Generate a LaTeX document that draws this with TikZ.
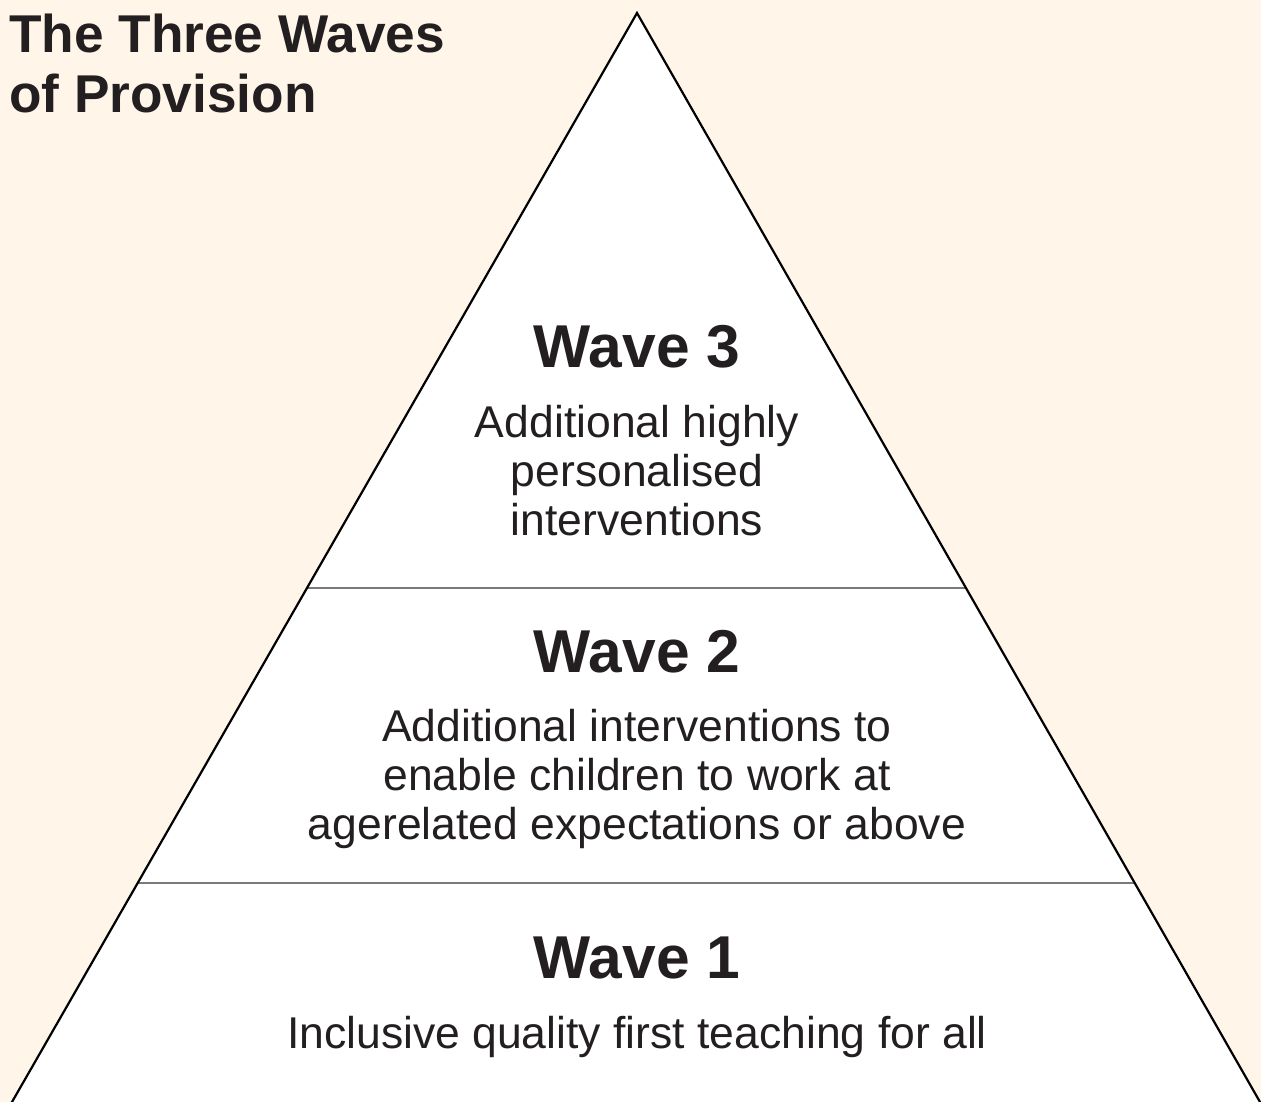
\documentclass[tikz,border=0pt]{standalone}
\usepackage{fontspec}
\setmainfont{Liberation Sans}
\usetikzlibrary{calc}
\definecolor{cream}{HTML}{FFF6E9}
\definecolor{ink}{HTML}{231F20}
\definecolor{rule}{HTML}{7A7A7A}
\begin{document}
\begin{tikzpicture}[x=1pt,y=-1pt,
  heading/.style={inner sep=0pt,anchor=base,text=ink,font=\bfseries\fontsize{60.5}{60}\selectfont},
  bodyline/.style={inner sep=0pt,anchor=base,text=ink,font=\fontsize{44.5}{49}\selectfont},
  titleline/.style={inner sep=0pt,anchor=base west,text=ink,font=\bfseries\fontsize{53.2}{60}\selectfont},
  side/.style={draw=black,line width=2.2pt},
  divider/.style={draw=rule,line width=1.4pt}]
  % canvas
  \fill[cream] (0,0) rectangle (1261,1102);
  \useasboundingbox (0,0) rectangle (1261,1102);
  \clip (0,0) rectangle (1261,1102);

  % pyramid corners
  \coordinate (apex) at (637,13);
  \coordinate (bl) at (12,1102);
  \coordinate (br) at (1260,1102);
  \fill[white] (apex) -- ($(apex)!1.02!(bl)$) -- ($(apex)!1.02!(br)$) -- cycle;

  % tier dividers
  \coordinate (d3l) at ($(apex)!0.52801!(bl)$);
  \coordinate (d3r) at ($(apex)!0.52801!(br)$);
  \coordinate (d2l) at ($(apex)!0.79890!(bl)$);
  \coordinate (d2r) at ($(apex)!0.79890!(br)$);
  \draw[divider] (d3l) -- (d3r);
  \draw[divider] (d2l) -- (d2r);

  % sides
  \draw[side,line join=miter] ($(apex)!1.02!(bl)$) -- (apex) -- ($(apex)!1.02!(br)$);

  % title
  \node[titleline] (title1) at (9,53) {The Three Waves};
  \node[titleline] (title2) at (9,113) {of Provision};

  % wave 3
  \node[heading] (w3) at (637,367) {Wave 3};
  \node[bodyline] (w3a) at (637,437) {Additional highly};
  \node[bodyline] (w3b) at (637,486) {personalised};
  \node[bodyline] (w3c) at (637,535) {interventions};

  % wave 2
  \node[heading] (w2) at (637,672) {Wave 2};
  \node[bodyline] (w2a) at (637,741) {Additional interventions to};
  \node[bodyline] (w2b) at (637,790) {enable children to work at};
  \node[bodyline] (w2c) at (637,839) {agerelated expectations or above};

  % wave 1
  \node[heading] (w1) at (637,978) {Wave 1};
  \node[bodyline] (w1a) at (637,1048) {Inclusive quality first teaching for all};
\end{tikzpicture}
\end{document}
